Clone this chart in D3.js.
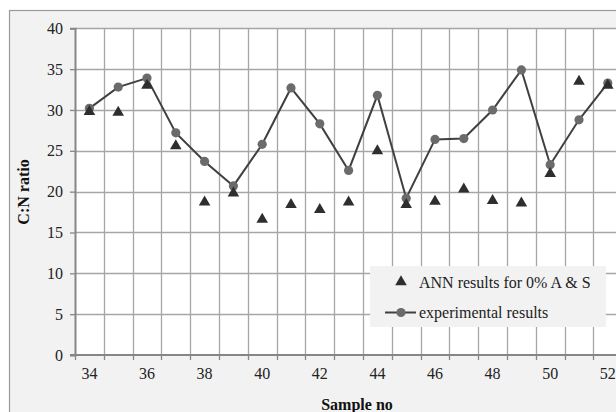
<!DOCTYPE html>
<html>
<head>
<meta charset="utf-8">
<script src="https://cdn.jsdelivr.net/npm/d3@7"></script>
<style>
  html, body { margin: 0; padding: 0; background: #fff; }
  svg { display: block; }
  svg text { font-family: "Liberation Serif", "Times New Roman", serif; }
</style>
</head>
<body>
<svg id="chart" width="616" height="412"></svg>
<script>
// sample numbers on the x axis
const samples = [34, 35, 36, 37, 38, 39, 40, 41, 42, 43, 44, 45, 46, 47, 48, 49, 50, 51, 52];
// measured C:N ratio
const experimental = [30.2, 32.8, 33.9, 27.2, 23.7, 20.7, 25.8, 32.7, 28.3, 22.6, 31.8, 19.2, 26.4, 26.5, 30.0, 34.9, 23.3, 28.8, 33.3];
// ANN prediction, 0% A & S
const annResults = [29.8, 29.7, 33.0, 25.6, 18.7, 19.8, 16.6, 18.4, 17.8, 18.7, 25.0, 18.4, 18.8, 20.3, 18.9, 18.6, 22.2, 33.5, 33.0];
const yTicks = [0, 5, 10, 15, 20, 25, 30, 35, 40];
const xLabels = [34, 36, 38, 40, 42, 44, 46, 48, 50, 52];

const FONT = "'Liberation Serif', 'Times New Roman', serif";
const svg = d3.select("#chart");

// chart area (cropped on the right / bottom like the source)
svg.append("rect")
  .attr("x", 9.5).attr("y", 10.5)
  .attr("width", 700).attr("height", 500)
  .attr("fill", "#f2f2f2")
  .attr("stroke", "#9a9a9a")
  .attr("stroke-width", 1.2);

const plot = { left: 75, top: 28.3, bottom: 355, step: 28.8 };

const x = d3.scaleBand()
  .domain(samples)
  .range([plot.left, plot.left + samples.length * plot.step])
  .paddingInner(0).paddingOuter(0);

const y = d3.scaleLinear()
  .domain([0, 40])
  .range([plot.bottom, plot.top]);

const g = svg.append("g");

g.append("rect")
  .attr("x", plot.left).attr("y", plot.top)
  .attr("width", x.range()[1] - plot.left)
  .attr("height", plot.bottom - plot.top)
  .attr("fill", "#fff");

// horizontal grid
g.selectAll(".hgrid")
  .data(yTicks.filter(d => d > 0))
  .enter()
  .append("line")
  .attr("class", "hgrid")
  .attr("x1", plot.left).attr("x2", x.range()[1])
  .attr("y1", d => Math.round(y(d)) + 0.5)
  .attr("y2", d => Math.round(y(d)) + 0.5)
  .attr("stroke", "#a6a6a6")
  .attr("stroke-width", 1.3);

// vertical grid at category boundaries
g.selectAll(".vgrid")
  .data(samples.slice(1))
  .enter()
  .append("line")
  .attr("class", "vgrid")
  .attr("x1", d => Math.round(x(d)) + 0.5)
  .attr("x2", d => Math.round(x(d)) + 0.5)
  .attr("y1", plot.top).attr("y2", plot.bottom)
  .attr("stroke", "#a6a6a6")
  .attr("stroke-width", 1.3);

// y axis
const yAxis = g.append("g")
  .attr("transform", `translate(${plot.left},0)`)
  .call(d3.axisLeft(y).tickValues(yTicks).tickSize(5).tickPadding(7));
yAxis.attr("font-family", null).attr("font-size", null);
yAxis.select(".domain").attr("stroke", "#868686").attr("stroke-width", 2);
yAxis.selectAll(".tick line").attr("stroke", "#868686").attr("stroke-width", 1.3);
yAxis.selectAll(".tick text")
  .style("font-family", FONT)
  .style("font-size", "16px")
  .attr("fill", "#222");

// x axis: ticks on boundaries, labels every other category
const xAxisG = g.append("g").attr("transform", `translate(0,${plot.bottom})`);
xAxisG.append("line")
  .attr("x1", plot.left - 5).attr("x2", x.range()[1])
  .attr("y1", 0).attr("y2", 0)
  .attr("stroke", "#868686").attr("stroke-width", 2);
xAxisG.selectAll(".xtick")
  .data(samples)
  .enter()
  .append("line")
  .attr("class", "xtick")
  .attr("x1", d => Math.round(x(d)) + 0.5)
  .attr("x2", d => Math.round(x(d)) + 0.5)
  .attr("y1", 0).attr("y2", 5)
  .attr("stroke", "#868686").attr("stroke-width", 1.3);
xAxisG.selectAll(".xlabel")
  .data(xLabels)
  .enter()
  .append("text")
  .attr("class", "xlabel")
  .attr("x", d => x(d) + x.bandwidth() / 2)
  .attr("y", 24)
  .attr("text-anchor", "middle")
  .style("font-family", FONT)
  .style("font-size", "16px")
  .attr("fill", "#222")
  .text(d => d);

// axis titles
svg.append("text")
  .attr("transform", "translate(29,192) rotate(-90)")
  .attr("text-anchor", "middle")
  .style("font-family", FONT)
  .style("font-size", "16px")
  .attr("font-weight", "bold")
  .attr("fill", "#111")
  .text("C:N ratio");

svg.append("text")
  .attr("x", 357).attr("y", 410)
  .attr("text-anchor", "middle")
  .style("font-family", FONT)
  .style("font-size", "16px")
  .attr("font-weight", "bold")
  .attr("fill", "#111")
  .text("Sample no");

const cx = d => x(d) + x.bandwidth() / 2;

// experimental line + circles
const line = d3.line()
  .x((d, i) => cx(samples[i]))
  .y(d => y(d));

g.append("path")
  .datum(experimental)
  .attr("d", line)
  .attr("fill", "none")
  .attr("stroke", "#404040")
  .attr("stroke-width", 2);

g.selectAll(".expPt")
  .data(experimental)
  .enter()
  .append("circle")
  .attr("class", "expPt")
  .attr("cx", (d, i) => cx(samples[i]))
  .attr("cy", d => y(d))
  .attr("r", 4.6)
  .attr("fill", "#6b6b6b");

// ANN triangles
const tri = d3.symbol().type(d3.symbolTriangle).size(58);
g.selectAll(".annPt")
  .data(annResults)
  .enter()
  .append("path")
  .attr("class", "annPt")
  .attr("d", tri)
  .attr("transform", (d, i) => `translate(${cx(samples[i])},${y(d)})`)
  .attr("fill", "#2e2e2e");

// legend
const legend = svg.append("g").attr("transform", "translate(370,266)");
legend.append("rect")
  .attr("width", 236).attr("height", 61)
  .attr("fill", "#f2f2f2");
legend.append("path")
  .attr("d", tri)
  .attr("transform", "translate(31,16)")
  .attr("fill", "#2e2e2e");
legend.append("text")
  .attr("x", 49).attr("y", 21.5)
  .style("font-family", FONT)
  .style("font-size", "16px")
  .attr("fill", "#222")
  .text("ANN results for 0% A & S");
legend.append("line")
  .attr("x1", 15).attr("x2", 46)
  .attr("y1", 46.5).attr("y2", 46.5)
  .attr("stroke", "#404040").attr("stroke-width", 2);
legend.append("circle")
  .attr("cx", 31).attr("cy", 46.5).attr("r", 4.6)
  .attr("fill", "#6b6b6b");
legend.append("text")
  .attr("x", 49).attr("y", 52)
  .style("font-family", FONT)
  .style("font-size", "16px")
  .attr("fill", "#222")
  .text("experimental results");
</script>
</body>
</html>
